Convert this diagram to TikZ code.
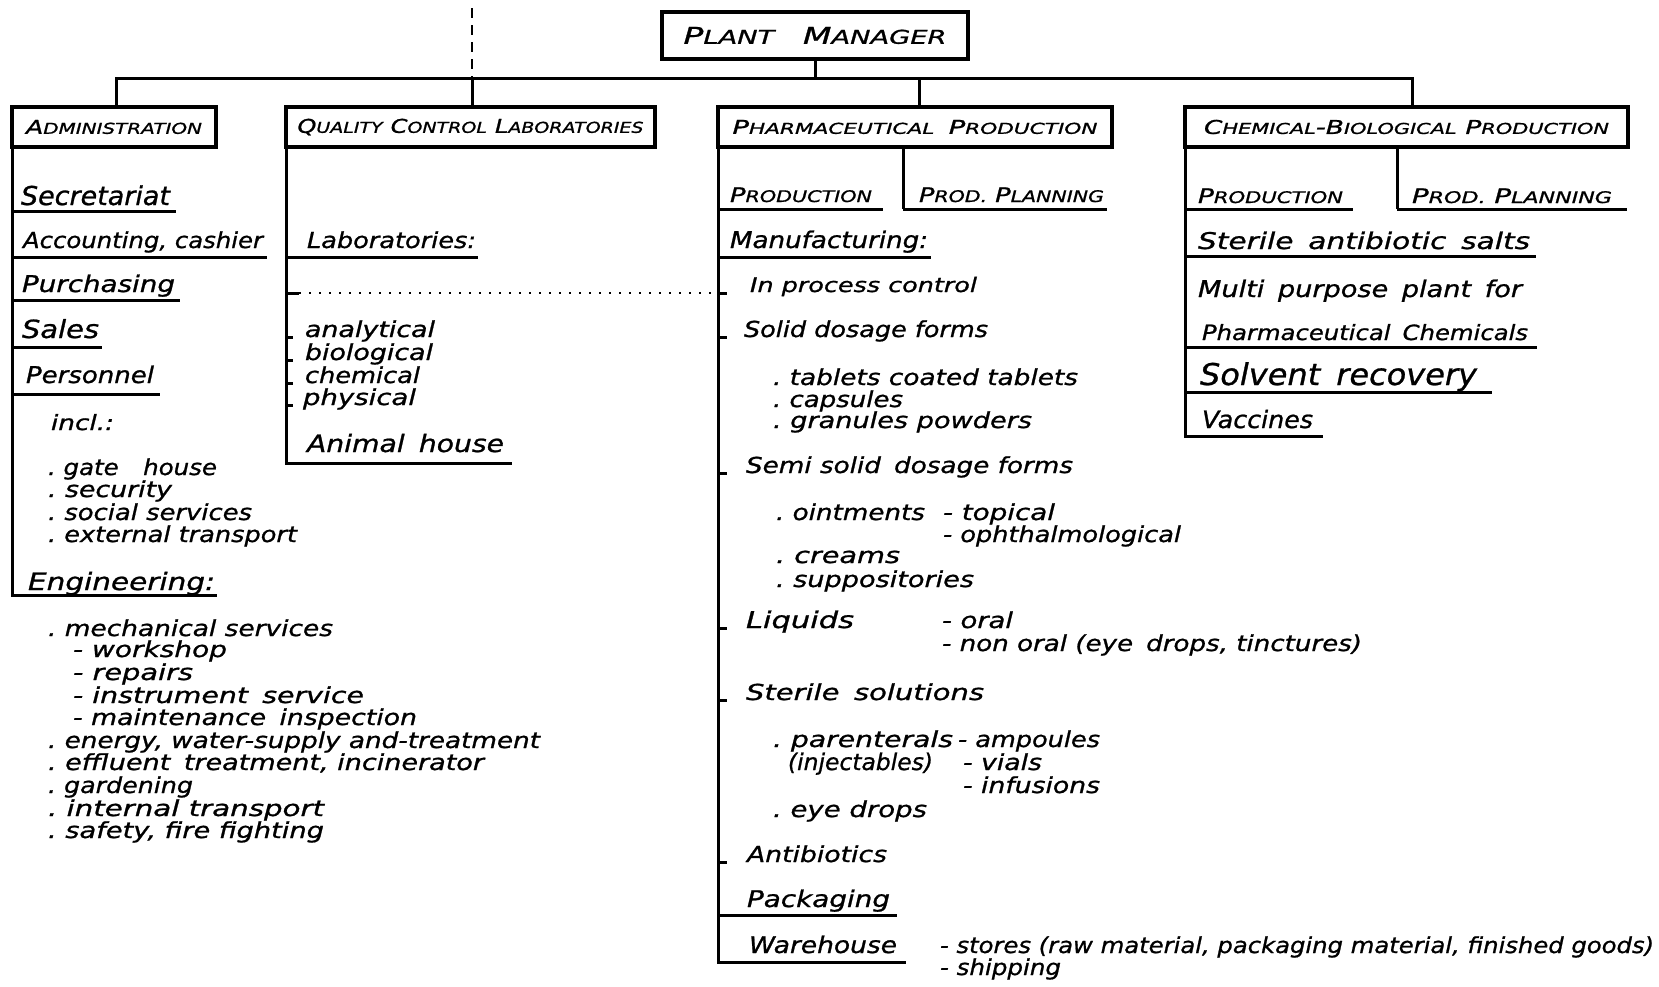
\documentclass[tikz,border=0pt]{standalone}
\usepackage{fontspec}
\setmainfont{DejaVu Sans}[ItalicFeatures={FakeBold=0.9}]
\usetikzlibrary{calc}

% box used to fit a text to a given width (given in picture units)
\newsavebox\fwbox
\newlength\fwlen
\newcommand\fw[2]{%
  \sbox\fwbox{#2}\setlength\fwlen{\wd\fwbox}%
  \pgfmathsetmacro\fwr{(#1)*0.5/\fwlen}%
  \scalebox{\fwr}[1]{\usebox\fwbox}}

% lettering with enlarged initials
\newcommand\Cap[2]{{\fontsize{9.5}{9.5}\selectfont#1}{\fontsize{7.5}{7.5}\selectfont#2}}
\newcommand\Sub[2]{{\fontsize{10}{10}\selectfont#1}{\fontsize{8}{8}\selectfont#2}}
\newcommand\Top[2]{{\fontsize{11.5}{11.5}\selectfont#1}{\fontsize{9.5}{9.5}\selectfont#2}}

\tikzset{
  txt/.style={anchor=base west, inner sep=0pt, outer sep=0pt},
  unitbox/.style={draw, line width=1.6pt, inner sep=0pt, font=\itshape},
  rule/.style={line width=1.5pt},
  dashline/.style={line width=1.1pt, dash pattern=on 5pt off 3.5pt},
  dotline/.style={line width=1.2pt, dash pattern=on 1pt off 4pt},
}

% name, x, baseline, right end, size, text
\newcommand\itm[6]{\node[txt,font=\itshape\fontsize{#5}{#5}\selectfont] (#1) at (#2,#3) {\fw{#4-#2}{#6}};}
% underline: y, x from, x to
\newcommand\ul[3]{\draw[rule] (#2,#1) -- (#3,#1);}
% short tick: x, y, length
\newcommand\tk[3]{\draw[rule] (#1,#2) -- ++(#3,0);}

\begin{document}
\begin{tikzpicture}[x=0.5pt,y=-0.5pt]
\fill[white] (0,0) rectangle (1659,986);
\useasboundingbox (0,0) rectangle (1659,986);

% ---------- boxes ----------
\node[unitbox, minimum width=153pt, minimum height=23.5pt] (pm) at (815,35.5)
  {\fw{263}{\Top{P}{LANT}\quad\Top{M}{ANAGER}}};
\node[unitbox, minimum width=102pt, minimum height=20pt] (adm) at (114,127)
  {\fw{176}{\Cap{A}{DMINISTRATION}}};
\node[unitbox, minimum width=184.5pt, minimum height=20pt] (qc) at (470.5,127)
  {\fw{346}{\Cap{Q}{UALITY} \Cap{C}{ONTROL} \Cap{L}{ABORATORIES}}};
\node[unitbox, minimum width=197pt, minimum height=20pt] (ph) at (915,127)
  {\fw{365}{\Cap{P}{HARMACEUTICAL}\enspace\Cap{P}{RODUCTION}}};
\node[unitbox, minimum width=221.5pt, minimum height=20pt] (ch) at (1406.5,127)
  {\fw{405}{\Cap{C}{HEMICAL}-\Cap{B}{IOLOGICAL} \Cap{P}{RODUCTION}}};

% ---------- tree lines ----------
\coordinate (bL) at (116,78);
\coordinate (bQ) at (472,78);
\coordinate (bP) at (919,78);
\coordinate (bR) at (1412,78);
\coordinate (topQ) at (472,8);
\draw[rule] (bL |- adm.north) -- (bL) -- (bR) -- (bR |- ch.north);
\draw[rule] (pm.south) -- (pm.south |- bL);
\draw[rule] (bQ) -- (bQ |- qc.north);
\draw[rule] (bP) -- (bP |- ph.north);
\draw[dashline] (topQ) -- (bQ);

% ---------- administration ----------
\coordinate (admEnd) at (217,595);
\draw[rule] (12,147) |- (admEnd);
\itm{secr}{21}{205}{170}{13}{Secretariat}
\ul{211}{12}{176}
\itm{acct}{23}{248}{263}{11}{Accounting, cashier}
\ul{257}{12}{267}
\itm{purch}{22}{292}{175}{11.5}{Purchasing}
\ul{300}{12}{180}
\itm{sales}{22}{338}{99}{12.5}{Sales}
\ul{347}{12}{102}
\itm{pers}{26}{383}{154}{11.5}{Personnel}
\ul{394}{12}{160}
\itm{incl}{51}{430}{114}{10.5}{incl.:}
\itm{gate}{48}{475}{217}{11}{.\ gate\quad house}
\itm{secu}{48}{497}{172}{11}{.\ security}
\itm{soc}{48}{520}{252}{11}{.\ social services}
\itm{ext}{48}{542}{297}{11}{.\ external transport}
\itm{eng}{28}{590}{215}{12}{Engineering:}
\itm{mech}{48}{636}{333}{11}{.\ mechanical services}
\itm{work}{73}{657}{227}{11}{- workshop}
\itm{rep}{73}{680}{193}{11}{- repairs}
\itm{inst}{73}{703}{364}{11}{- instrument\enspace service}
\itm{maint}{73}{725}{417}{11}{- maintenance\enspace inspection}
\itm{energy}{48}{748}{540}{11}{.\ energy, water-supply and-treatment}
\itm{effl}{48}{770}{484}{11}{.\ effluent\enspace treatment, incinerator}
\itm{gard}{48}{793}{193}{11}{.\ gardening}
\itm{intt}{48}{816}{324}{11}{.\ internal transport}
\itm{safe}{48}{838}{324}{11}{.\ safety, fire fighting}

% ---------- quality control ----------
\coordinate (qcEnd) at (512,463);
\draw[rule] (286,147) |- (qcEnd);
\itm{lab}{307}{248}{476}{11}{Laboratories:}
\ul{257}{286}{478}
\coordinate (dotL) at (299,293);
\coordinate (dotR) at (716,293);
\draw[rule] (286,293) -- (dotL);
\draw[dotline] (dotL) -- (dotR);
\itm{anal}{305}{337}{435}{11}{analytical}
\itm{bio}{305}{360}{433}{11}{biological}
\itm{chm}{305}{383}{420}{11}{chemical}
\itm{phys}{303}{405}{416}{11}{physical}
\tk{286}{337}{7}
\tk{286}{360}{7}
\tk{286}{383}{7}
\tk{286}{405}{7}
\itm{anim}{307}{452}{504}{12}{Animal\enspace house}

% ---------- pharmaceutical production ----------
\coordinate (phEnd) at (906,962);
\draw[rule] (718,147) |- (phEnd);
\draw[rule] (903,147) -- (903,209);
\itm{prodA}{730}{202}{872}{10}{\Sub{P}{RODUCTION}}
\ul{209}{718}{883}
\itm{planA}{919}{202}{1104}{10}{\Sub{P}{ROD.} \Sub{P}{LANNING}}
\ul{209}{903}{1107}
\itm{manu}{730}{248}{928}{11.5}{Manufacturing:}
\ul{257}{718}{931}
\tk{718}{293}{9}
\itm{inpc}{750}{292}{977}{10}{In process control}
\tk{718}{337}{9}
\itm{solid}{744}{337}{988}{11}{Solid dosage forms}
\itm{tabl}{773}{385}{1078}{11}{.\ tablets coated tablets}
\itm{caps}{773}{407}{903}{11}{.\ capsules}
\itm{gran}{773}{428}{1032}{11}{.\ granules powders}
\tk{718}{473}{9}
\itm{semi}{746}{473}{1073}{11}{Semi solid\enspace dosage forms}
\itm{oint}{776}{520}{925}{11}{.\ ointments}
\itm{topi}{943}{520}{1055}{11}{- topical}
\itm{opht}{943}{542}{1181}{11}{- ophthalmological}
\itm{crea}{776}{563}{900}{11}{.\ creams}
\itm{supp}{776}{587}{974}{11}{.\ suppositories}
\tk{718}{628}{9}
\itm{liq}{746}{628}{854}{11.5}{Liquids}
\itm{oral}{942}{628}{1013}{11}{- oral}
\itm{nonor}{942}{651}{1362}{11}{- non oral (eye\enspace drops, tinctures)}
\tk{718}{700}{9}
\itm{ster}{746}{700}{984}{11}{Sterile\enspace solutions}
\itm{paren}{773}{747}{953}{11}{.\ parenterals}
\itm{amp}{958}{747}{1100}{11}{- ampoules}
\itm{inj}{788}{770}{933}{11.5}{(injectables)}
\itm{vial}{963}{770}{1042}{11}{- vials}
\itm{inf}{963}{793}{1100}{11}{- infusions}
\itm{eye}{773}{817}{927}{11}{.\ eye drops}
\tk{718}{862}{9}
\itm{anti}{747}{862}{887}{11}{Antibiotics}
\itm{pack}{747}{907}{890}{11.5}{Packaging}
\ul{915}{718}{897}
\itm{ware}{749}{953}{897}{11.5}{Warehouse}
\itm{stor}{940}{953}{1654}{11}{- stores (raw material, packaging material, finished goods)}
\itm{ship}{940}{975}{1061}{11}{- shipping}

% ---------- chemical-biological production ----------
\coordinate (chEnd) at (1323,436);
\draw[rule] (1185,147) |- (chEnd);
\draw[rule] (1397,147) -- (1397,209);
\itm{prodB}{1198}{203}{1343}{10}{\Sub{P}{RODUCTION}}
\ul{209}{1185}{1353}
\itm{planB}{1412}{203}{1612}{10}{\Sub{P}{ROD.} \Sub{P}{LANNING}}
\ul{209}{1397}{1627}
\itm{sterB}{1198}{249}{1530}{11.5}{Sterile\enspace antibiotic\enspace salts}
\ul{256}{1185}{1536}
\itm{multi}{1198}{297}{1522}{11.5}{Multi\enspace purpose\enspace plant\enspace for}
\itm{phch}{1202}{340}{1528}{10.5}{Pharmaceutical\enspace Chemicals}
\ul{347}{1185}{1537}
\itm{solv}{1200}{385}{1477}{15}{Solvent\enspace recovery}
\ul{392}{1185}{1492}
\itm{vacc}{1202}{428}{1313}{12}{Vaccines}
\end{tikzpicture}
\end{document}
